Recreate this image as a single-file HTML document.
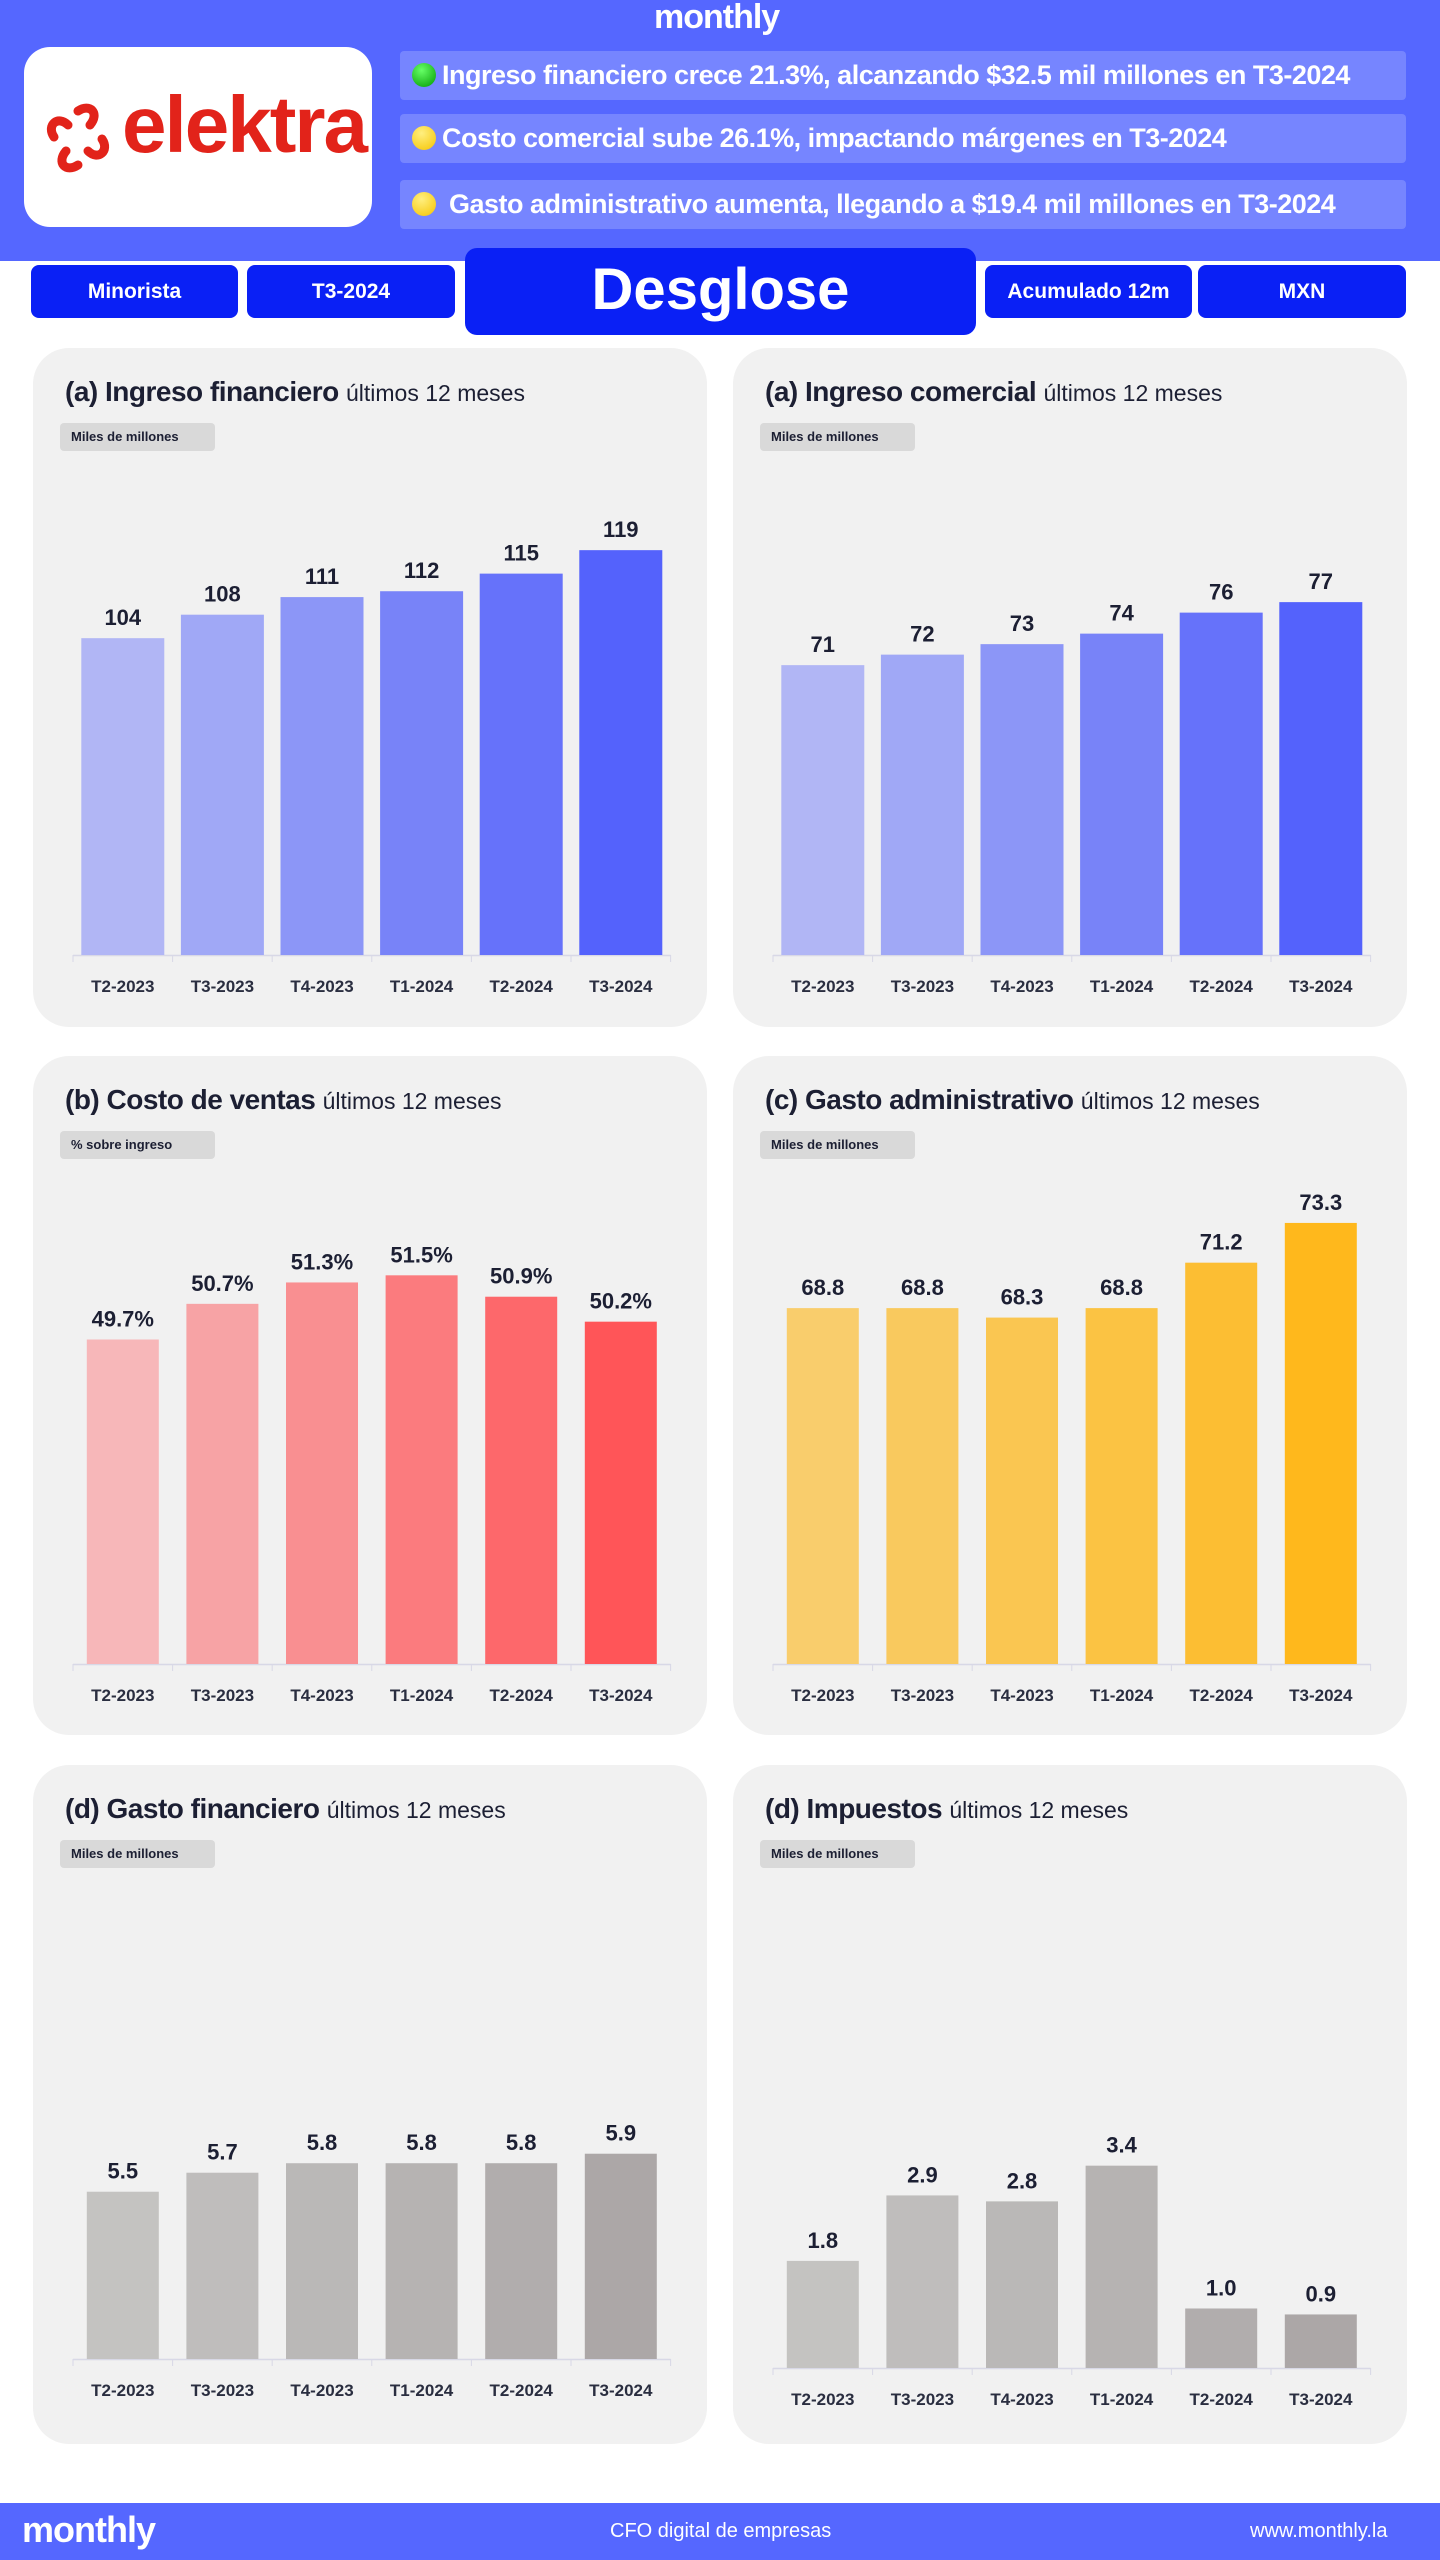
<!DOCTYPE html>
<html><head><meta charset="utf-8"><style>
*{box-sizing:border-box;margin:0;padding:0}
body{width:1440px;height:2560px;background:#fff;font-family:"Liberation Sans",sans-serif;position:relative;overflow:hidden;color:#1c1f33}
.abs{position:absolute}
#hdr{left:0;top:0;width:1440px;height:261px;background:#5567ff}
.bul{position:absolute;left:400px;width:1006px;height:49px;background:#7685ff;border-radius:4px;color:#fff;font-size:27px;line-height:49px;padding-left:12px;white-space:nowrap;font-weight:bold;letter-spacing:-0.5px}
.dot{display:inline-block;width:24px;height:24px;border-radius:50%;vertical-align:-3px;margin-right:6px}
.tab{position:absolute;top:265px;height:53px;background:#0a20f5;border-radius:8px;color:#fff;font-size:21px;font-weight:bold;text-align:center;line-height:53px}
.panel{position:absolute;width:674px;height:679px;background:#f1f1f1;border-radius:36px}
.ttl{position:absolute;left:32px;top:28px;font-size:28px;font-weight:bold;white-space:nowrap;letter-spacing:-0.5px}
.ttl span{font-weight:normal;font-size:23px;letter-spacing:0}
.tag{position:absolute;left:27px;top:75px;width:155px;height:28px;background:#d9d9d9;border-radius:4px;font-size:13px;font-weight:bold;line-height:28px;padding-left:11px}
#ftr{left:0;top:2503px;width:1440px;height:57px;background:#5567ff;color:#fff}
</style></head><body>
<div id="hdr" class="abs">
 <div class="abs" style="left:654px;top:-2px;font-size:34px;font-weight:bold;color:#fff;letter-spacing:-1px">monthly</div>
 <div class="abs" style="left:24px;top:47px;width:348px;height:180px;background:#fff;border-radius:26px">
  <svg class="abs" style="left:18px;top:50px" width="72" height="80" viewBox="0 0 72 80">
   <g fill="none" stroke="#e2231a" stroke-width="9" stroke-linecap="round">
    <path d="M36 14 C 48 6, 58 16, 48 28"/><path d="M60 42 C 68 54, 56 64, 46 54"/>
    <path d="M36 68 C 24 76, 14 66, 24 54"/><path d="M12 40 C 4 28, 16 18, 26 28"/>
   </g></svg>
  <div class="abs" style="left:98px;top:32px;font-size:80px;font-weight:bold;color:#e2231a;letter-spacing:-2px">elektra</div>
 </div>
 <div class="bul" style="top:51px"><span class="dot" style="background:radial-gradient(circle at 40% 30%,#6f6,#090)"></span>Ingreso financiero crece 21.3%, alcanzando $32.5 mil millones en T3-2024</div>
 <div class="bul" style="top:114px"><span class="dot" style="background:radial-gradient(circle at 40% 30%,#ffef80,#f5c400)"></span>Costo comercial sube 26.1%, impactando márgenes en T3-2024</div>
 <div class="bul" style="top:180px"><span class="dot" style="background:radial-gradient(circle at 40% 30%,#ffef80,#f5c400)"></span> Gasto administrativo aumenta, llegando a $19.4 mil millones en T3-2024</div>
</div>
<div class="tab" style="left:31px;width:207px">Minorista</div>
<div class="tab" style="left:247px;width:208px">T3-2024</div>
<div class="tab" style="left:465px;top:248px;width:511px;height:87px;line-height:84px;font-size:58px;border-radius:12px">Desglose</div>
<div class="tab" style="left:985px;width:207px">Acumulado 12m</div>
<div class="tab" style="left:1198px;width:208px">MXN</div>
<div id="charts"></div>
<div id="ftr" class="abs">
 <div class="abs" style="left:22px;top:6px;font-size:36px;font-weight:bold;letter-spacing:-1px">monthly</div>
 <div class="abs" style="left:610px;top:17px;font-size:20px">CFO digital de empresas</div>
 <div class="abs" style="left:1250px;top:17px;font-size:20px">www.monthly.la</div>
</div>
<script>
const categories=["T2-2023","T3-2023","T4-2023","T1-2024","T2-2024","T3-2024"];
const ingresoFinanciero=[104,108,111,112,115,119];
const ingresoFinancieroLabels=["104","108","111","112","115","119"];
const ingresoComercial=[71,72,73,74,76,77];
const ingresoComercialLabels=["71","72","73","74","76","77"];
const costoVentas=[49.7,50.7,51.3,51.5,50.9,50.2];
const costoVentasLabels=["49.7%","50.7%","51.3%","51.5%","50.9%","50.2%"];
const gastoAdmin=[68.8,68.8,68.3,68.8,71.2,73.3];
const gastoAdminLabels=["68.8","68.8","68.3","68.8","71.2","73.3"];
const gastoFin=[5.5,5.7,5.8,5.8,5.8,5.9];
const gastoFinLabels=["5.5","5.7","5.8","5.8","5.8","5.9"];
const impuestos=[1.8,2.9,2.8,3.4,1.0,0.9];
const impuestosLabels=["1.8","2.9","2.8","3.4","1.0","0.9"];

const cfgs=[
 {name:'ingreso-financiero',x:33,y:348,base:607,t:'(a) Ingreso financiero',tag:'Miles de millones',v:ingresoFinanciero,l:ingresoFinancieroLabels,min:50,max:128.4,bw:83,c:['#b1b6f5','#a0a8f6','#8c96f7','#7883f8','#6672fa','#5462fc']},
 {name:'ingreso-comercial',x:733,y:348,base:607,t:'(a) Ingreso comercial',tag:'Miles de millones',v:ingresoComercial,l:ingresoComercialLabels,min:43.4,max:87.2,bw:83,c:['#b1b6f5','#a0a8f6','#8c96f7','#7883f8','#6672fa','#5462fc']},
 {name:'costo-ventas',x:33,y:1056,base:608,t:'(b) Costo de ventas',tag:'% sobre ingreso',v:costoVentas,l:costoVentasLabels,min:40.6,max:53.5,bw:72,c:['#f7b7b9','#f7a3a5','#f98f91','#fb7b7e','#fd686b','#ff5558']},
 {name:'gasto-administrativo',x:733,y:1056,base:608,t:'(c) Gasto administrativo',tag:'Miles de millones',v:gastoAdmin,l:gastoAdminLabels,min:50,max:74.3,bw:72,c:['#f9cd6c','#f9c95e','#fac651','#fbc343','#fcbe33','#ffb81c']},
 {name:'gasto-financiero',x:33,y:1765,base:594,t:'(d) Gasto financiero',tag:'Miles de millones',v:gastoFin,l:gastoFinLabels,min:3.74,max:8.58,bw:72,c:['#c4c3c1','#bfbdbc','#bab8b7','#b6b3b2','#b1adad','#aca7a7']},
 {name:'impuestos',x:733,y:1765,base:603,t:'(d) Impuestos',tag:'Miles de millones',v:impuestos,l:impuestosLabels,min:0,max:7.73,bw:72,c:['#c4c3c1','#bfbdbc','#bab8b7','#b6b3b2','#b1adad','#aca7a7']}
];
const NS='http://www.w3.org/2000/svg';
const root=document.getElementById('charts');
cfgs.forEach(cf=>{
 const p=document.createElement('div');p.className='panel';
 p.style.left=cf.x+'px';p.style.top=cf.y+'px';
 
 
 const t=document.createElement('div');t.className='ttl';
 t.innerHTML=cf.t+' <span>últimos 12 meses</span>';
 
 
 p.appendChild(t);
 const g=document.createElement('div');g.className='tag';g.textContent=cf.tag;
 
 
 p.appendChild(g);
 const s=document.createElementNS(NS,'svg');s.setAttribute('width',674);s.setAttribute('height',679);
 s.style.position='absolute';s.style.left='0';s.style.top='0';
 const base=cf.base,H=460,x0=40,step=99.6;
 const ys=v=>base-(v-cf.min)/(cf.max-cf.min)*H;
 const xc=i=>x0+step*(i+0.5);
 const ax=document.createElementNS(NS,'line');
 ax.setAttribute('x1',x0);ax.setAttribute('x2',x0+step*6);ax.setAttribute('y1',base+0.5);ax.setAttribute('y2',base+0.5);
 ax.setAttribute('stroke','#d8d8e6');ax.setAttribute('stroke-width','1.5');
 
 
 s.appendChild(ax);
 for(let i=0;i<=6;i++){const tk=document.createElementNS(NS,'line');
  tk.setAttribute('x1',x0+step*i);tk.setAttribute('x2',x0+step*i);tk.setAttribute('y1',base);tk.setAttribute('y2',base+7);
  tk.setAttribute('stroke','#d8d8e6');
  
  
  s.appendChild(tk);}
 cf.v.forEach((v,i)=>{
  const r=document.createElementNS(NS,'rect');const y=ys(v);
  r.setAttribute('x',xc(i)-cf.bw/2);r.setAttribute('y',y);r.setAttribute('width',cf.bw);r.setAttribute('height',base-y);
  r.setAttribute('fill',cf.c[i]);
  
  
  s.appendChild(r);
  const lb=document.createElementNS(NS,'text');lb.setAttribute('x',xc(i));lb.setAttribute('y',y-13);
  lb.setAttribute('text-anchor','middle');lb.setAttribute('font-size','22');lb.setAttribute('font-weight','bold');lb.setAttribute('fill','#1c1f33');
  lb.textContent=cf.l[i];
  
  
  s.appendChild(lb);
  const cl=document.createElementNS(NS,'text');cl.setAttribute('x',xc(i));cl.setAttribute('y',base+37);
  cl.setAttribute('text-anchor','middle');cl.setAttribute('font-size','17');cl.setAttribute('font-weight','bold');cl.setAttribute('fill','#2a2e40');
  cl.textContent=categories[i];
  
  
  s.appendChild(cl);
 });
 p.appendChild(s);root.appendChild(p);
});
</script>
</body></html>
